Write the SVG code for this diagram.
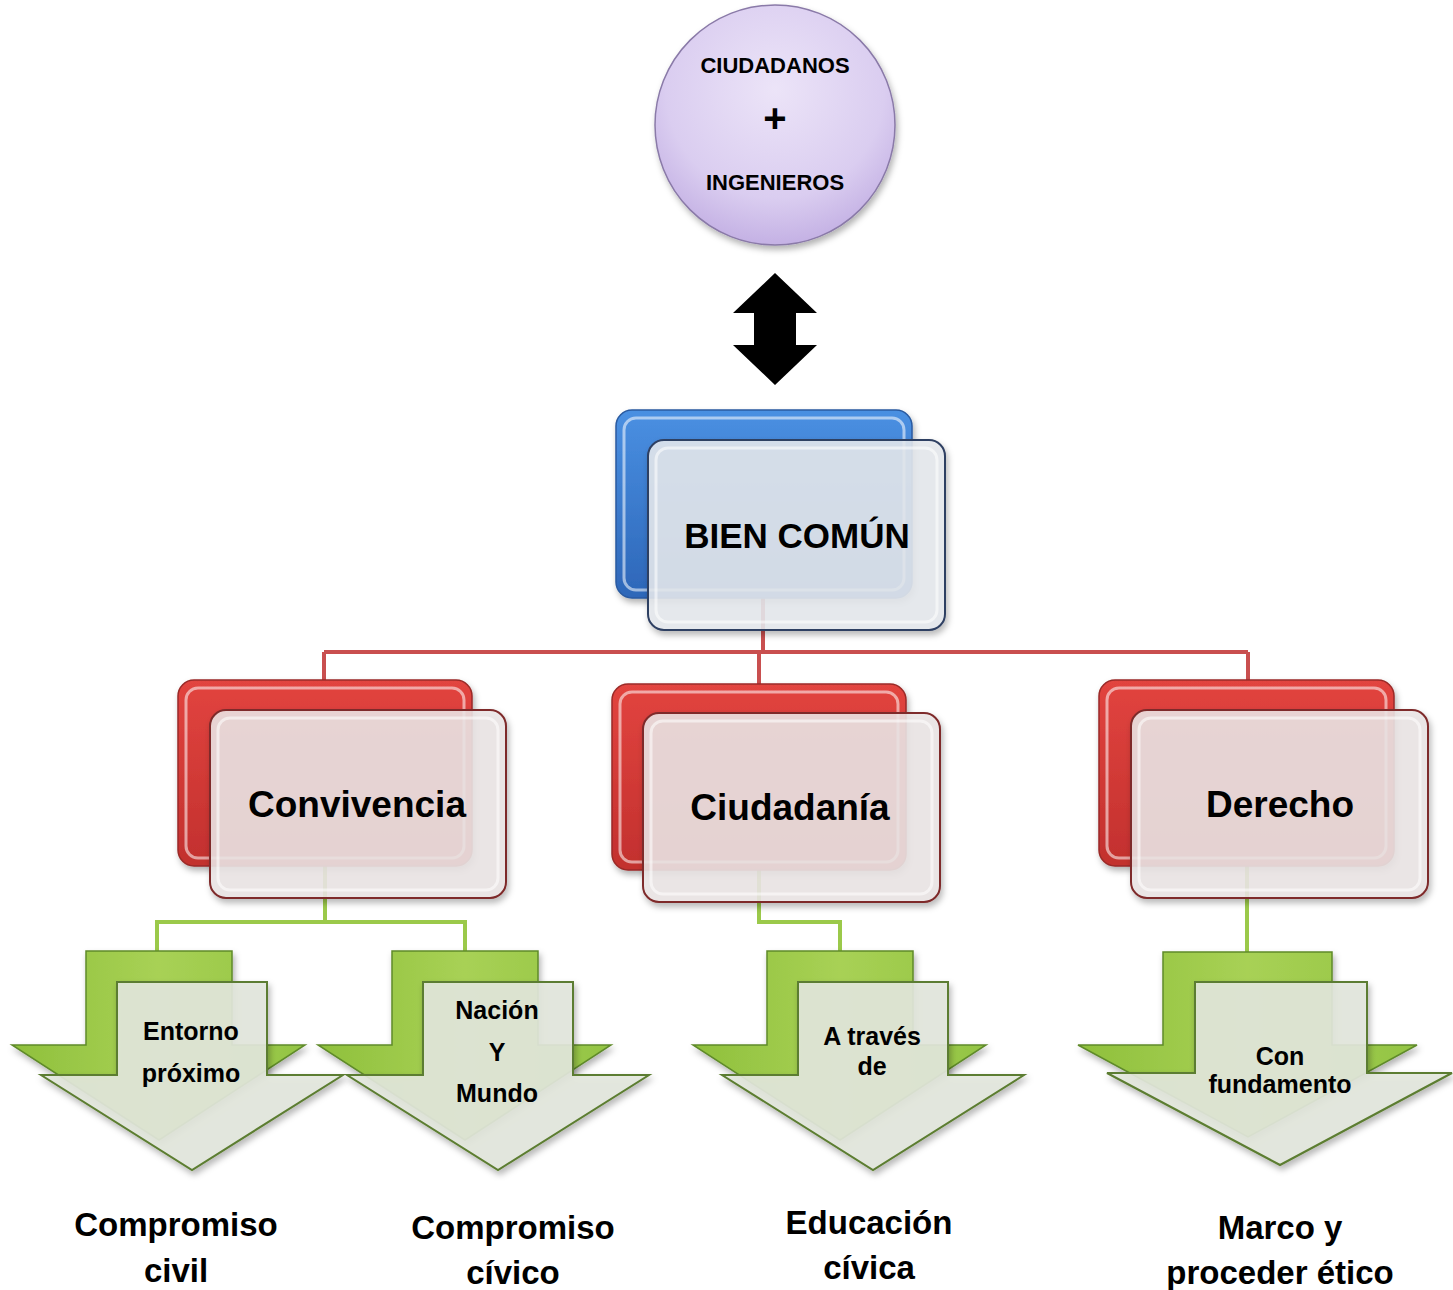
<svg xmlns="http://www.w3.org/2000/svg" width="1453" height="1290" viewBox="0 0 1453 1290">
<style>
text{font-family:"Liberation Sans",Arial,sans-serif;font-weight:bold;fill:#000;text-anchor:middle}
.c-red{fill:none;stroke:#c94f4f;stroke-width:4}
.c-green{fill:none;stroke:#9bc94a;stroke-width:4}
.backBlue{fill:url(#gBlue);stroke:#2a5aa0;stroke-width:1.5}
.backRed{fill:url(#gRed);stroke:#9a2a28;stroke-width:1.5}
.frontBlue{fill:#e6e9ee;fill-opacity:0.88;stroke:#2f3f62;stroke-width:2}
.frontRed{fill:#ece6e6;fill-opacity:0.88;stroke:#7e2a2a;stroke-width:2}
.hl{fill:none;stroke:#ffffff;stroke-opacity:0.55;stroke-width:3}
.backGreen{fill:url(#gGreen);stroke:#5f8a2a;stroke-width:1.5}
.frontGreen{fill:#e3e8dd;fill-opacity:0.9;stroke:#5c7d30;stroke-width:2}
.lbl{font-size:33px}
.arr{font-size:25px}
.box{font-size:37px}
</style>
<defs>
<linearGradient id="gBlue" x1="0" y1="0" x2="0" y2="1"><stop offset="0" stop-color="#4a90e2"/><stop offset="1" stop-color="#2d66b8"/></linearGradient>
<linearGradient id="gRed" x1="0" y1="0" x2="0" y2="1"><stop offset="0" stop-color="#e2443f"/><stop offset="1" stop-color="#c2302e"/></linearGradient>
<linearGradient id="gGreen" x1="0" y1="0" x2="1" y2="0"><stop offset="0" stop-color="#8fc03c"/><stop offset="0.5" stop-color="#a8d155"/><stop offset="1" stop-color="#93c443"/></linearGradient>
<radialGradient id="gCircle" cx="0.5" cy="0.35" r="0.65"><stop offset="0" stop-color="#ece4f8"/><stop offset="0.7" stop-color="#dacdf0"/><stop offset="1" stop-color="#c4b1e4"/></radialGradient>
<filter id="sh" x="-10%" y="-10%" width="130%" height="130%"><feDropShadow dx="2" dy="4" stdDeviation="3" flood-color="#000" flood-opacity="0.3"/></filter>
</defs>

<g id="connectors">
<path class="c-red" d="M763,598 V652 M324,652 H1248 M324,652 V682 M759,652 V686 M1248,652 V682"/>
<path class="c-green" d="M325,866 V922 M157,922 H465 M157,920 V953 M465,920 V953"/>
<path class="c-green" d="M759,870 V922 H840 V953"/>
<path class="c-green" d="M1247,866 V954"/>
</g>

<g id="ciudadanos">
<circle cx="775" cy="125" r="120" fill="url(#gCircle)" stroke="#8a7aa8" stroke-width="1.5" filter="url(#sh)"/>
<text x="775" y="73" style="font-size:22px">CIUDADANOS</text>
<text x="775" y="132" style="font-size:40px">+</text>
<text x="775" y="190" style="font-size:22px">INGENIEROS</text>
</g>

<g id="double-arrow">
<path d="M775,273 L817,313 L796,313 L796,345 L817,345 L775,385 L733,345 L754,345 L754,313 L733,313 Z" fill="#000"/>
</g>

<g id="bien-comun">
<rect class="backBlue" x="616" y="410" width="296" height="188" rx="16" filter="url(#sh)"/>
<rect class="hl" x="624" y="418" width="280" height="172" rx="12"/>
<rect class="frontBlue" x="648" y="440" width="297" height="190" rx="16" filter="url(#sh)"/>
<rect class="hl" x="656" y="448" width="281" height="174" rx="12"/>
<text x="797" y="548" style="font-size:35px">BIEN COMÚN</text>
</g>

<g id="convivencia">
<rect class="backRed" x="178" y="680" width="294" height="186" rx="16" filter="url(#sh)"/>
<rect class="hl" x="186" y="688" width="278" height="170" rx="12"/>
<rect class="frontRed" x="210" y="710" width="296" height="188" rx="16" filter="url(#sh)"/>
<rect class="hl" x="218" y="718" width="280" height="172" rx="12"/>
<text class="box" x="357" y="817">Convivencia</text>
</g>

<g id="ciudadania">
<rect class="backRed" x="612" y="684" width="294" height="186" rx="16" filter="url(#sh)"/>
<rect class="hl" x="620" y="692" width="278" height="170" rx="12"/>
<rect class="frontRed" x="643" y="713" width="297" height="189" rx="16" filter="url(#sh)"/>
<rect class="hl" x="651" y="721" width="281" height="173" rx="12"/>
<text class="box" x="790" y="820">Ciudadanía</text>
</g>

<g id="derecho">
<rect class="backRed" x="1099" y="680" width="295" height="186" rx="16" filter="url(#sh)"/>
<rect class="hl" x="1107" y="688" width="279" height="170" rx="12"/>
<rect class="frontRed" x="1131" y="710" width="297" height="188" rx="16" filter="url(#sh)"/>
<rect class="hl" x="1139" y="718" width="281" height="172" rx="12"/>
<text class="box" x="1280" y="817">Derecho</text>
</g>

<g id="arrow-entorno">
<path class="backGreen" d="M86,951 H232 V1045 H305 L159,1140 L12,1045 H86 Z" filter="url(#sh)"/>
<path class="frontGreen" d="M117,982 H267 V1075 H343 L192,1170 L41,1075 H117 Z" filter="url(#sh)"/>
<text class="arr" x="191" y="1040">Entorno</text>
<text class="arr" x="191" y="1082">próximo</text>
</g>

<g id="arrow-nacion">
<path class="backGreen" d="M392,951 H538 V1045 H611 L465,1140 L318,1045 H392 Z" filter="url(#sh)"/>
<path class="frontGreen" d="M423,982 H573 V1075 H649 L498,1170 L347,1075 H423 Z" filter="url(#sh)"/>
<text class="arr" x="497" y="1019">Nación</text>
<text class="arr" x="497" y="1061">Y</text>
<text class="arr" x="497" y="1102">Mundo</text>
</g>

<g id="arrow-traves">
<path class="backGreen" d="M767,951 H913 V1045 H986 L840,1140 L693,1045 H767 Z" filter="url(#sh)"/>
<path class="frontGreen" d="M798,982 H948 V1075 H1024 L873,1170 L722,1075 H798 Z" filter="url(#sh)"/>
<text class="arr" x="872" y="1045">A través</text>
<text class="arr" x="872" y="1075">de</text>
</g>

<g id="arrow-fundamento">
<path class="backGreen" d="M1163,952 H1332 V1045 H1417 L1248,1137 L1078,1045 H1163 Z" filter="url(#sh)"/>
<path class="frontGreen" d="M1195,982 H1367 V1073 H1452 L1280,1165 L1107,1073 H1195 Z" filter="url(#sh)"/>
<text class="arr" x="1280" y="1065">Con</text>
<text class="arr" x="1280" y="1093">fundamento</text>
</g>

<g id="label-civil">
<text class="lbl" x="176" y="1236">Compromiso</text>
<text class="lbl" x="176" y="1282">civil</text>
</g>
<g id="label-civico">
<text class="lbl" x="513" y="1239">Compromiso</text>
<text class="lbl" x="513" y="1284">cívico</text>
</g>
<g id="label-educacion">
<text class="lbl" x="869" y="1234">Educación</text>
<text class="lbl" x="869" y="1279">cívica</text>
</g>
<g id="label-marco">
<text class="lbl" x="1280" y="1239">Marco y</text>
<text class="lbl" x="1280" y="1284">proceder ético</text>
</g>
</svg>
